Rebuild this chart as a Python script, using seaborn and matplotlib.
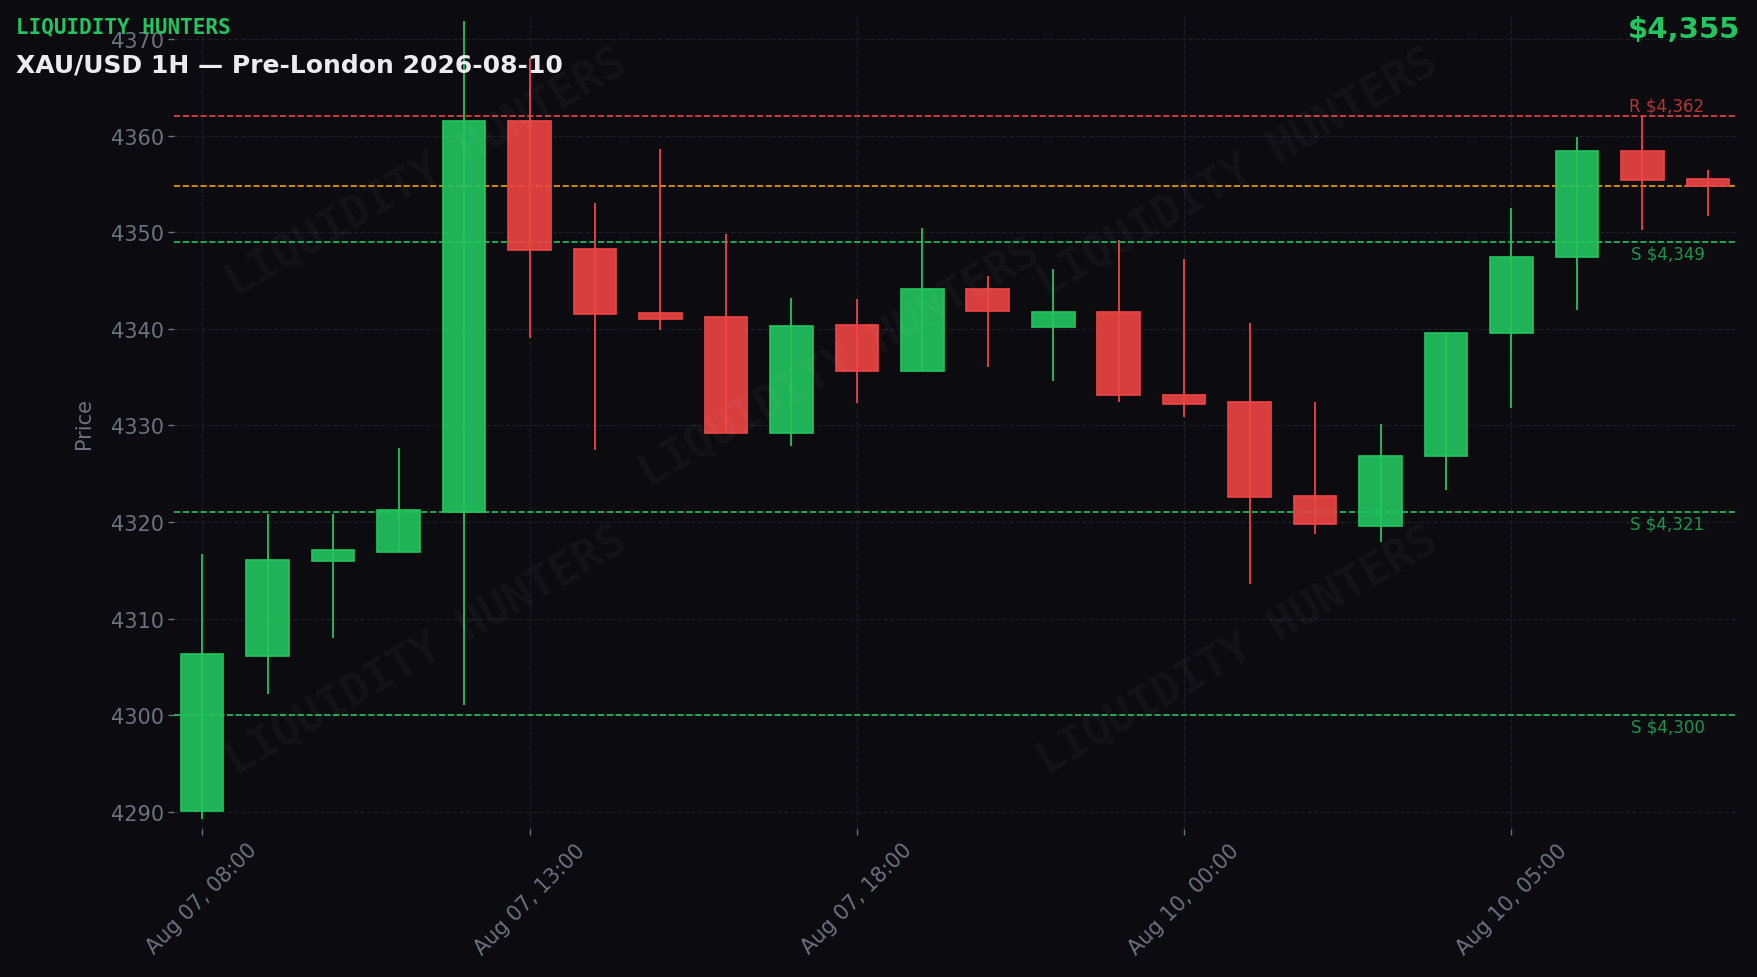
import matplotlib
matplotlib.use("Agg")
import matplotlib.pyplot as plt
import seaborn as sns
import numpy as np

# ---------------- data ----------------
opens  = [4290.1, 4306.1, 4316.0, 4316.9, 4321.0, 4361.5, 4348.3, 4341.6, 4341.2, 4329.2,
          4340.4, 4335.6, 4344.1, 4340.2, 4341.7, 4333.2, 4332.4, 4322.7, 4319.6, 4326.8,
          4339.6, 4347.4, 4358.4, 4355.5]
closes = [4306.3, 4316.1, 4317.1, 4321.2, 4361.5, 4348.2, 4341.5, 4341.0, 4329.2, 4340.3,
          4335.6, 4344.1, 4341.8, 4341.7, 4333.1, 4332.2, 4322.6, 4319.8, 4326.8, 4339.6,
          4347.4, 4358.4, 4355.4, 4354.8]
highs  = [4316.7, 4320.8, 4320.8, 4327.7, 4371.9, 4368.0, 4353.0, 4358.6, 4349.8, 4343.2,
          4343.1, 4350.4, 4345.5, 4346.2, 4349.2, 4347.2, 4340.6, 4332.4, 4330.1, 4339.6,
          4352.5, 4359.9, 4362.0, 4356.5]
lows   = [4289.2, 4302.2, 4308.0, 4316.9, 4301.0, 4339.1, 4327.5, 4339.9, 4329.2, 4327.9,
          4332.3, 4335.6, 4336.1, 4334.6, 4332.4, 4330.9, 4313.6, 4318.8, 4317.9, 4323.3,
          4331.8, 4342.0, 4350.2, 4351.7]
tick_positions = [0, 5, 10, 15, 20]
tick_labels = ["Aug 07, 08:00", "Aug 07, 13:00", "Aug 07, 18:00", "Aug 10, 00:00", "Aug 10, 05:00"]
resistance_levels = [4362]
support_levels = [4349, 4321, 4300]

BG = "#0b0b10"
GREEN = "#22c55e"
RED = "#ef4444"
ORANGE = "#f59e0b"
GRAY = "#6b7280"
GRID = "#1e1e28"

sns.set_theme(style="dark")
plt.rcParams["font.family"] = ["DejaVu Sans"]

fig = plt.figure(figsize=(17.58, 9.78), dpi=100, facecolor=BG)
ax = fig.add_axes([0.099, 0.1513, 0.8885, 0.8323])
ax.set_facecolor(BG)

x = np.arange(len(opens))
o = np.array(opens); c = np.array(closes); h = np.array(highs); l = np.array(lows)
up = c >= o
colors = np.where(up, GREEN, RED)

ax.vlines(x, l, h, colors=colors, linewidth=1.3, zorder=2)
bottoms = np.minimum(o, c)
heights = np.maximum(np.abs(c - o), 0.15)
ax.bar(x, heights, bottom=bottoms, width=0.65, color=colors, alpha=0.9,
       edgecolor="none", zorder=3)
ax.bar(x, heights, bottom=bottoms, width=0.65, color="none",
       edgecolor=colors, linewidth=1.2, zorder=3)

last_x = len(opens) - 1
for lvl in resistance_levels:
    ax.axhline(lvl, color=RED, linestyle="--", linewidth=1.2, zorder=1.5)
    ax.text(last_x - 0.05, lvl + 0.25, f"R ${lvl:,.0f}", color=RED, alpha=0.75,
            fontsize=12, ha="right", va="bottom", zorder=4)
for lvl in support_levels:
    ax.axhline(lvl, color=GREEN, linestyle="--", linewidth=1.2, zorder=1.5)
    ax.text(last_x - 0.05, lvl - 0.25, f"S ${lvl:,.0f}", color=GREEN, alpha=0.75,
            fontsize=12, ha="right", va="top", zorder=4)
ax.axhline(closes[-1], color=ORANGE, linestyle="--", linewidth=1.2, zorder=1.5)

# watermark
for fx, fy in [(0.162, 0.807), (0.426, 0.574), (0.681, 0.807), (0.162, 0.219), (0.681, 0.219)]:
    ax.text(fx, fy, "LIQUIDITY HUNTERS", transform=ax.transAxes, rotation=30,
            fontsize=32, fontweight="bold", family="DejaVu Sans Mono",
            color="white", alpha=0.035, ha="center", va="center",
            rotation_mode="anchor", zorder=5)

ax.set_xlim(-0.43, 23.43)
ax.set_ylim(4288.2, 4372.5)
ax.set_yticks(np.arange(4290, 4371, 10))
ax.set_xticks(tick_positions)
ax.set_xticklabels(tick_labels, rotation=45, ha="center")
ax.tick_params(axis="both", colors=GRAY, labelcolor=GRAY, labelsize=15,
               length=4, width=1, left=True, bottom=True)
ax.set_ylabel("Price", color=GRAY, fontsize=15, labelpad=12)
ax.grid(True, color=GRID, linestyle="--", linewidth=0.9)
for s in ax.spines.values():
    s.set_visible(False)

fig.text(0.0089, 0.966, "LIQUIDITY HUNTERS", color=GREEN, fontsize=15,
         fontweight="bold", family="DejaVu Sans Mono", ha="left", va="baseline")
fig.text(0.0089, 0.9254, "XAU/USD 1H — Pre-London 2026-08-10", color="#ececf0",
         fontsize=18, fontweight="bold", ha="left", va="baseline")
fig.text(0.990, 0.961, f"${closes[-1]:,.0f}", color=GREEN, fontsize=21,
         fontweight="bold", ha="right", va="baseline")

fig.savefig("out.png", dpi=100, facecolor=BG)
